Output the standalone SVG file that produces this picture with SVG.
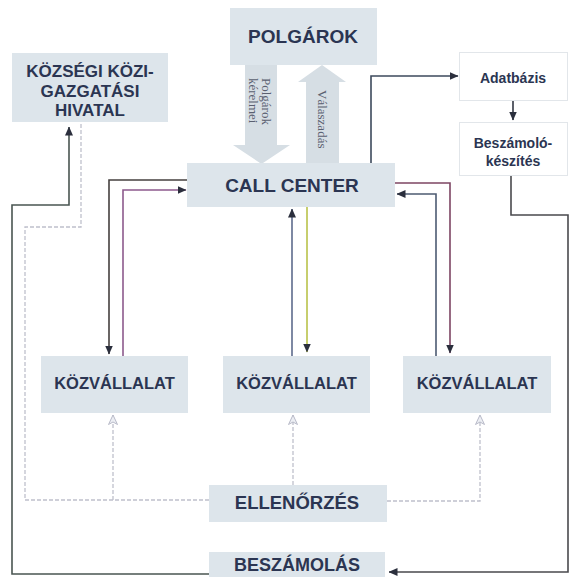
<svg xmlns="http://www.w3.org/2000/svg" width="571" height="577" viewBox="0 0 571 577">
<defs>
<style>
.box{fill:#dde5eb}
.wbox{fill:#ffffff;stroke:#e2e6ea;stroke-width:1}
.t{font-family:"Liberation Sans",Arial,sans-serif;font-weight:bold;fill:#2b3552;text-anchor:middle}
.s{font-family:"Liberation Serif","Times New Roman",serif;fill:#5a6070;font-size:13px}
.ln{fill:none;stroke-width:1.6}
.dl{fill:none;stroke:#bfc0cc;stroke-width:1.3;stroke-dasharray:4 2}
.big{fill:#d6dee4}
</style>
<marker id="ah" markerUnits="userSpaceOnUse" markerWidth="9" markerHeight="8" refX="8.5" refY="4" orient="auto">
<path d="M0,0 L9,4 L0,8 z" fill="#2b2f3d"/>
</marker>
<marker id="lh" markerUnits="userSpaceOnUse" markerWidth="11" markerHeight="10" refX="10" refY="5" orient="auto">
<path d="M0.5,0.5 L10,5 L0.5,9.5 L3,5 z" fill="#eceef3" stroke="#b8bac8" stroke-width="1"/>
</marker>
</defs>

<g id="connectors">
<path class="ln" stroke="#3d4a5c" d="M371,163 V76 H458" marker-end="url(#ah)"/>
<path class="ln" stroke="#333844" d="M513,101 V120" marker-end="url(#ah)"/>
<path class="ln" stroke="#4a4a4e" d="M511,175 V215 H568 V572 H389" marker-end="url(#ah)"/>
<path class="ln" stroke="#4a5552" d="M209,574 H12 V205 H69 V127" marker-end="url(#ah)"/>
<path class="ln" stroke="#45403f" d="M187,180 H109 V354" marker-end="url(#ah)"/>
<path class="ln" stroke="#8d5a8d" d="M123,356 V190 H186" marker-end="url(#ah)"/>
<path class="ln" stroke="#5d6b8c" d="M292,356 V209" marker-end="url(#ah)"/>
<path class="ln" stroke="#b9c24a" d="M307,207 V352" marker-end="url(#ah)"/>
<path class="ln" stroke="#7d4563" d="M395,183 H450 V353" marker-end="url(#ah)"/>
<path class="ln" stroke="#4d5b72" d="M436,356 V194 H397" marker-end="url(#ah)"/>
<path class="dl" d="M209,500 H25 V227 H81 V122"/>
<path class="dl" d="M113,500 V415" marker-end="url(#lh)"/>
<path class="dl" d="M293,485 V415" marker-end="url(#lh)"/>
<path class="dl" d="M387,501 H480 V415" marker-end="url(#lh)"/>
</g>

<g id="arrow-kerelmei">
<path class="big" d="M245,65 H277 V145 H290 L261.5,164 L233,145 H245 Z"/>
<text class="s" transform="translate(262,78) rotate(90)">Polgárok</text>
<text class="s" transform="translate(249,78) rotate(90)">kérelmei</text>
</g>
<g id="arrow-valaszadas">
<path class="big" d="M306,163 V82 H298 L322,65 L346,82 H339 V163 Z"/>
<text class="s" transform="translate(318,90) rotate(90)">Válaszadás</text>
</g>

<g id="polgarok">
<rect class="box" x="230" y="8" width="147" height="57"/>
<text class="t" x="303" y="43" font-size="19">POLGÁROK</text>
</g>
<g id="kozsegi">
<rect class="box" x="12" y="53" width="156" height="69"/>
<text class="t" x="90" y="77" font-size="17">KÖZSÉGI KÖZI-</text>
<text class="t" x="90" y="97" font-size="17">GAZGATÁSI</text>
<text class="t" x="90" y="116" font-size="17">HIVATAL</text>
</g>
<g id="adatbazis">
<rect class="wbox" x="459.5" y="52.5" width="108" height="48"/>
<text class="t" x="513" y="83" font-size="14">Adatbázis</text>
</g>
<g id="beszamolo-keszites">
<rect class="wbox" x="459.5" y="122.5" width="108" height="53"/>
<text class="t" x="513" y="148" font-size="14">Beszámoló-</text>
<text class="t" x="513" y="166" font-size="14">készítés</text>
</g>
<g id="callcenter">
<rect class="box" x="187" y="163" width="208" height="44"/>
<text class="t" x="292" y="192" font-size="19">CALL CENTER</text>
</g>
<g id="kozvallalat1">
<rect class="box" x="41" y="356" width="147" height="57"/>
<text class="t" x="114.5" y="389" font-size="16.5">KÖZVÁLLALAT</text>
</g>
<g id="kozvallalat2">
<rect class="box" x="223" y="356" width="147" height="57"/>
<text class="t" x="296.5" y="389" font-size="16.5">KÖZVÁLLALAT</text>
</g>
<g id="kozvallalat3">
<rect class="box" x="403" y="356" width="148" height="57"/>
<text class="t" x="477" y="389" font-size="16.5">KÖZVÁLLALAT</text>
</g>
<g id="ellenorzes">
<rect class="box" x="209" y="485" width="178" height="37"/>
<text class="t" x="297" y="509" font-size="18.5">ELLENŐRZÉS</text>
</g>
<g id="beszamolas">
<rect class="box" x="209" y="552" width="176" height="30"/>
<text class="t" x="297" y="571" font-size="18">BESZÁMOLÁS</text>
</g>
</svg>
